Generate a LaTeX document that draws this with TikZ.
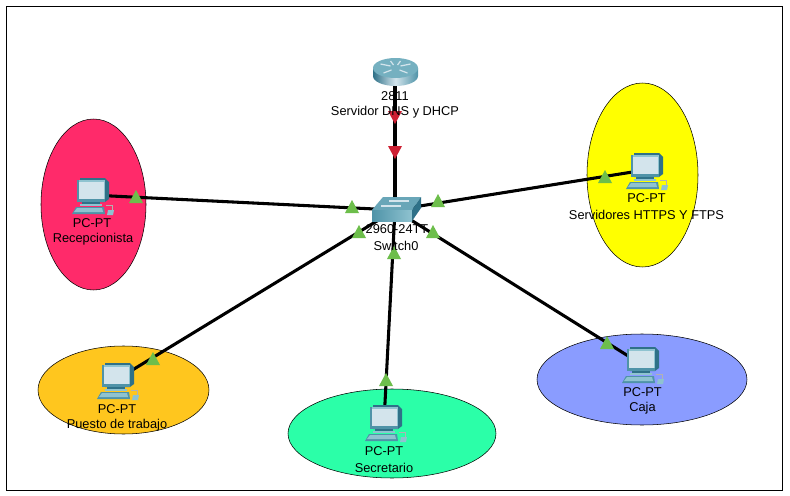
\documentclass[tikz,border=0pt]{standalone}
\usepackage{fontspec}
\setmainfont{Liberation Sans}
\usetikzlibrary{shapes.geometric}
\definecolor{rosa}{HTML}{FF2A6A}
\definecolor{amar}{HTML}{FFFF00}
\definecolor{nara}{HTML}{FFC61E}
\definecolor{verd}{HTML}{2BFFA8}
\definecolor{azul}{HTML}{8A9CFF}
\definecolor{tri}{HTML}{6DBE4B}
\definecolor{trired}{HTML}{CE2033}
\definecolor{teal1}{HTML}{4F93A8}
\definecolor{teal2}{HTML}{2F7188}
\definecolor{teal3}{HTML}{8FC3D0}
\definecolor{scr}{HTML}{D3E4EC}
\tikzset{
 x=0.75pt,y=-0.75pt,
 zona/.style={draw=black,line width=0.4pt,ellipse,inner sep=0pt},
 enlace/.style={line width=2.3pt,black},
 lbl/.style={font=\fontsize{9.6}{9.6}\selectfont,inner sep=0pt,text=black},
 punto/.style={inner sep=0pt,minimum size=1pt},
 ok/.style={fill=tri},
 ko/.style={fill=trired},
}
\newcommand{\pcicon}[2]{%
 \begin{scope}[shift={(#1,#2)}]
  \fill[teal2] (-11,-17) -- (14,-17) -- (18,-13) -- (18,4) -- (14,7) -- (-11,7) -- cycle;
  \fill[teal3] (-14,-15) rectangle (14,7);
  \fill[teal1] (-14,-15) rectangle (-12,7);
  \fill[scr] (-12,-13) rectangle (13,5);
  \fill[teal1] (-14,4) rectangle (14,7);
  \fill[teal2] (-9,7) rectangle (9,10);
  \fill[teal3] (-11,9) rectangle (11,11);
  \fill[teal1] (-15,12) -- (13,12) -- (14,19) -- (-19,19) -- cycle;
  \fill[teal3] (-14,13) -- (11,13) -- (12,17) -- (-17,17) -- cycle;
  \fill[teal3] (17,15) -- (23,15) -- (22,20) -- (16,20) -- cycle;
  \draw[gray!60,line width=0.3pt] (15,10) -- (21,10) -- (21,15);
 \end{scope}}
\newcommand{\tup}[3]{\fill[#3] (#1-7,#2+6) -- (#1,#2-7) -- (#1+7,#2+6) -- cycle;}
\newcommand{\tdn}[3]{\fill[#3] (#1-7,#2-7) -- (#1+7,#2-7) -- (#1,#2+6) -- cycle;}
\begin{document}
\begin{tikzpicture}
\useasboundingbox (0,0) rectangle (790,496);
\fill[white] (0,0) rectangle (790,496);
\node[draw=black,line width=1pt,minimum width=582pt,minimum height=363pt,inner sep=0pt,anchor=north west] (marco) at (5.5,6) {};
% zones
\node[zona,fill=rosa,minimum width=78.75pt,minimum height=128.25pt] (zrec) at (93.5,204.5) {};
\node[zona,fill=amar,minimum width=83.25pt,minimum height=138pt] (zser) at (642.5,175) {};
\node[zona,fill=nara,minimum width=128.25pt,minimum height=66pt] (zpue) at (123.5,390) {};
\node[zona,fill=verd,minimum width=156pt,minimum height=66.75pt] (zsec) at (392,433.5) {};
\node[zona,fill=azul,minimum width=157.5pt,minimum height=68.25pt] (zcaj) at (642,379.5) {};
% anchor points of the devices
\node[punto] (router) at (395,72) {};
\node[punto] (switch) at (395,210) {};
\node[punto] (pcrec) at (91,195) {};
\node[punto] (pcser) at (645,170) {};
\node[punto] (pcpue) at (116,380) {};
\node[punto] (pcsec) at (384,422) {};
\node[punto] (pccaj) at (641,364) {};
% links
\draw[enlace] (router.center) -- (switch.center);
\draw[enlace] (pcrec.center) -- (switch.center);
\draw[enlace] (pcser.center) -- (switch.center);
\draw[enlace] (pcpue.center) -- (switch.center);
\draw[enlace] (pcsec.center) -- (switch.center);
\draw[enlace] (pccaj.center) -- (switch.center);
% router icon
\begin{scope}[shift={(395.5,72)}]
 \shade[left color=teal2,right color=teal1,middle color=scr]
   (-22.5,-4) -- (-22.5,4) arc[start angle=180,end angle=0,x radius=22.5,y radius=10] -- (22.5,-4) -- cycle;
 \fill[teal3!60!teal1] (0,-4) ellipse[x radius=22.5,y radius=10];
 \draw[scr,line width=0.9pt] (-15,-8) -- (-5,-6) (15,-8) -- (5,-6) (-12,1) -- (-4,-2) (12,1) -- (4,-2) (-5,-11) -- (-2,-7) (5,-11) -- (2,-7);
\end{scope}
% switch icon
\begin{scope}[shift={(395,210)}]
 \fill[teal1!60!teal3] (-23,0) -- (-12,-13) -- (26,-13) -- (17,0) -- cycle;
 \shade[left color=teal1,right color=teal3] (-23,0) rectangle (17,11);
 \fill[teal2] (17,0) -- (26,-13) -- (26,-2) -- (17,11) -- cycle;
 \draw[scr,line width=0.8pt] (-6,-9) -- (14,-9) (-14,-4) -- (6,-4);
\end{scope}
% pcs
\pcicon{91}{195}
\pcicon{645}{170}
\pcicon{116}{380}
\pcicon{384}{422}
\pcicon{641}{364}
% triangles
\tup{136}{197}{ok}
\tup{352}{207}{ok}
\tup{438}{201}{ok}
\tup{605}{177}{ok}
\tup{359}{232}{ok}
\tup{433}{232}{ok}
\tup{394}{253}{ok}
\tup{386}{380}{ok}
\tup{153}{359}{ok}
\tup{607}{343}{ok}
\tdn{395}{118}{ko}
\tdn{395}{153}{ko}
% labels
\node[lbl] (t1) at (395,96.5) {2811};
\node[lbl] (t2) at (395,112.5) {Servidor DNS y DHCP};
\node[lbl] (t3) at (397,229.5) {2960-24TT};
\node[lbl] (t4) at (396,245.5) {Switch0};
\node[lbl] (t5) at (92,223.5) {PC-PT};
\node[lbl] (t6) at (93,239.5) {Recepcionista};
\node[lbl] (t7) at (646.5,198.5) {PC-PT};
\node[lbl] (t8) at (646.5,214.5) {Servidores HTTPS Y FTPS};
\node[lbl] (t9) at (117,409.5) {PC-PT};
\node[lbl] (t10) at (117,425.5) {Puesto de trabajo};
\node[lbl] (t11) at (384,451.5) {PC-PT};
\node[lbl] (t12) at (384,467.5) {Secretario};
\node[lbl] (t13) at (642.5,392.5) {PC-PT};
\node[lbl] (t14) at (642.5,408.5) {Caja};
\end{tikzpicture}
\end{document}
